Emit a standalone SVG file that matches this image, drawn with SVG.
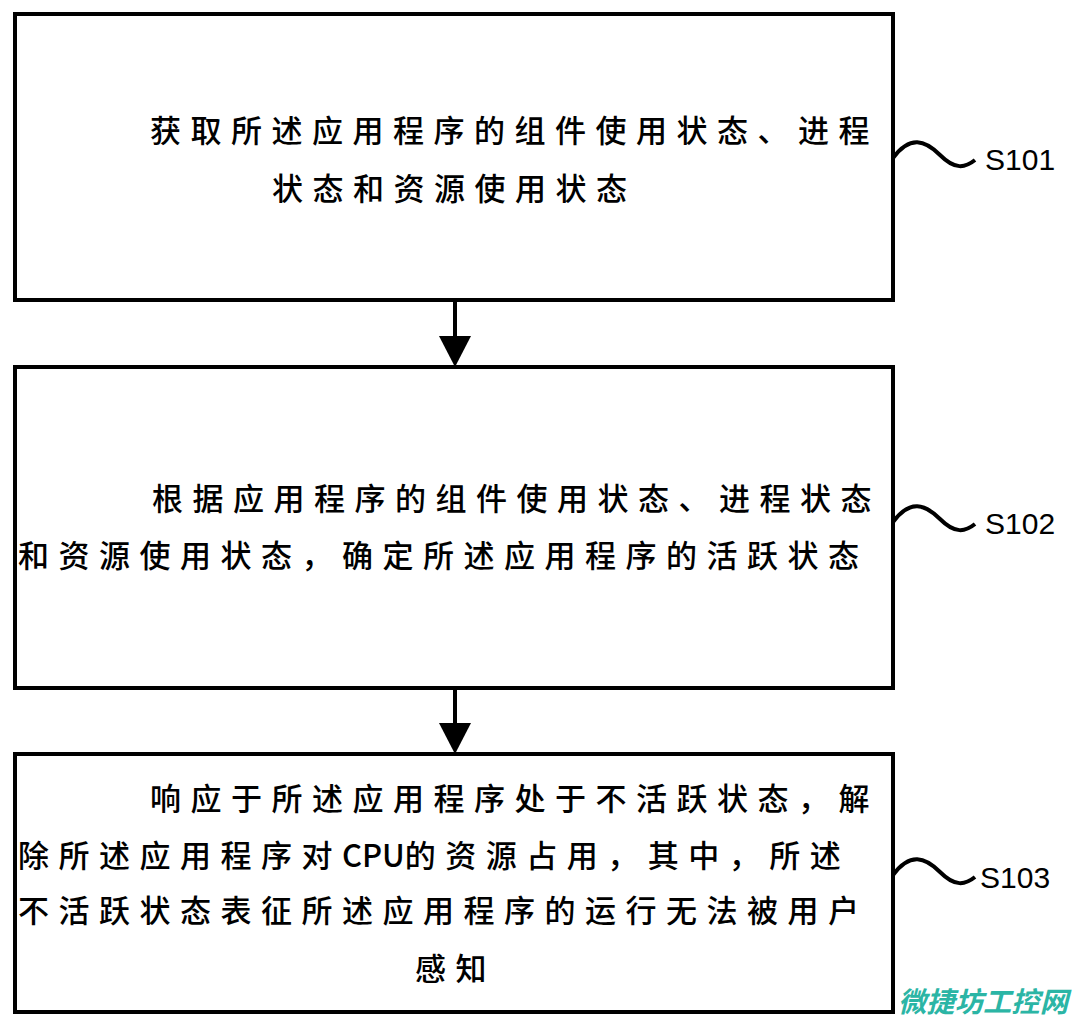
<svg xmlns="http://www.w3.org/2000/svg" width="1075" height="1028" viewBox="0 0 1075 1028">
<style>
.box{fill:#fff;stroke:#000;stroke-width:4}
.t{font-family:"Noto Sans CJK SC","Liberation Sans",sans-serif;font-size:31px;font-weight:500;letter-spacing:9.5px;fill:#000}
.l{font-family:"Liberation Sans",sans-serif;font-size:30px;fill:#000}
.w{fill:none;stroke:#000;stroke-width:4}
.c{stroke:#000;stroke-width:4}
</style>
<rect width="1075" height="1028" fill="#fff"/>
<g id="n1"><rect class="box" x="15" y="14" width="878" height="286"/>
<text class="t" x="150" y="142">获取所述应用程序的组件使用状态、进程</text>
<text class="t" x="272" y="200">状态和资源使用状态</text>
<path class="w" d="M893,158 C910,135 925,140 940,155 C955,170 965,168 975,160"/>
<text class="l" x="985" y="170">S101</text></g>
<g id="n2"><rect class="box" x="15" y="367" width="878" height="321"/>
<text class="t" x="152" y="510">根据应用程序的组件使用状态、进程状态</text>
<text class="t" x="18" y="567">和资源使用状态，确定所述应用程序的活跃状态</text>
<path class="w" d="M893,522 C910,499 925,504 940,519 C955,534 965,532 975,524"/>
<text class="l" x="985" y="534">S102</text></g>
<g id="n3"><rect class="box" x="15" y="754" width="878" height="258"/>
<text class="t" x="150" y="810">响应于所述应用程序处于不活跃状态，解</text>
<text class="t" x="18" y="867">除所述应用程序对<tspan letter-spacing="0">CPU</tspan>的资源占用，其中，所述</text>
<text class="t" x="18" y="922">不活跃状态表征所述应用程序的运行无法被用户</text>
<text class="t" x="415" y="980">感知</text>
<path class="w" d="M893,875 C910,852 925,857 940,872 C955,887 965,885 975,877"/>
<text class="l" x="980" y="888">S103</text></g>
<g id="connectors">
<path d="M455,300V340" class="c"/><path d="M439,336L471,336L455,367z"/>
<path d="M455,688V727" class="c"/><path d="M439,723L471,723L455,754z"/>
</g>
<text x="898" y="1012" font-family="Noto Sans CJK SC,sans-serif" font-size="28" font-weight="bold" font-style="italic" fill="#2bb5a5" textLength="170" lengthAdjust="spacingAndGlyphs">微捷坊工控网</text>
</svg>
